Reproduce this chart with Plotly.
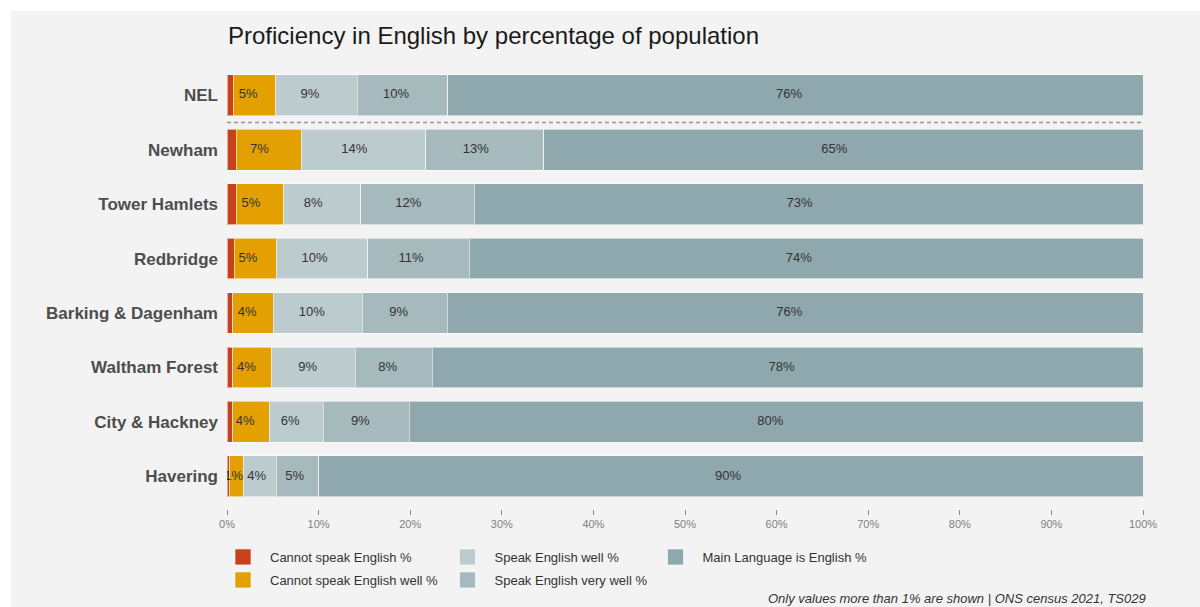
import math
import numpy as np
import plotly.graph_objects as go

areas = ["NEL", "Newham", "Tower Hamlets", "Redbridge", "Barking & Dagenham",
         "Waltham Forest", "City & Hackney", "Havering"]
cannot_speak = [0.7, 1.0, 1.0, 0.8, 0.65, 0.65, 0.65, 0.3]
cannot_speak_well = [4.6, 7.1, 5.2, 4.55, 4.4, 4.25, 3.95, 1.45]
speak_well = [8.9, 13.6, 8.4, 10.0, 9.7, 9.1, 5.9, 3.6]
speak_very_well = [9.9, 12.9, 12.4, 11.1, 9.3, 8.4, 9.4, 4.65]
main_language = [75.9, 65.4, 73.0, 73.55, 75.95, 77.6, 80.1, 90.0]

series_names = ["Cannot speak English %", "Cannot speak English well %",
                "Speak English well %", "Speak English very well %",
                "Main Language is English %"]
series_values = [cannot_speak, cannot_speak_well, speak_well, speak_very_well, main_language]
series_colors = ["#c9411b", "#e3a000", "#bccbce", "#a6b9bc", "#8fa8ad"]

x_ticks = list(range(0, 101, 10))
x_tick_labels = [f"{t}%" for t in x_ticks]
title_text = "Proficiency in English by percentage of population"
caption_text = "Only values more than 1% are shown | ONS census 2021, TS029"

FONT = "Liberation Sans, Arial, sans-serif"

# plot-area geometry (px)
W, H = 1200, 607
L, R, T, B = 227, 57, 68, 98
PW, PH = W - L - R, H - T - B


def px_x(p):
    return (p - L) / PW


def px_y(p):
    return (H - B - p) / PH


fig = go.Figure()

for name, vals, col in zip(series_names, series_values, series_colors):
    fig.add_trace(go.Bar(
        y=areas, x=vals, orientation="h", name=name,
        marker=dict(color=col, line=dict(color="rgba(255,255,255,0.55)", width=1)),
        showlegend=False, hoverinfo="y+x+name",
    ))

# labels (positions from data: stacked excluding the first series)
arr = np.array(series_values[1:])
starts = np.vstack([np.zeros(len(areas)), np.cumsum(arr, axis=0)[:-1]])
lx, ly, lt = [], [], []
for i in range(arr.shape[0]):
    for j in range(arr.shape[1]):
        v = arr[i, j]
        if v > 1:
            lx.append(starts[i, j] + v / 2)
            ly.append(areas[j])
            lt.append(f"{math.floor(v + 0.5)}%")
fig.add_trace(go.Scatter(
    x=lx, y=ly, text=lt, mode="text",
    textfont=dict(family=FONT, size=13, color="#333333"),
    showlegend=False, hoverinfo="skip",
))

# legend entries, column-major in 3 columns
legend_slots = [(216, 557), (216, 580), (440.5, 557), (440.5, 580), (648.5, 557)]
legend_keys = ["legend", "legend2", "legend3", "legend4", "legend5"]
for name, col, key in zip(series_names, series_colors, legend_keys):
    fig.add_trace(go.Scatter(
        x=[None], y=[None], mode="markers", name=name, legend=key,
        marker=dict(symbol="square", size=16, color=col,
                    line=dict(color="rgba(255,255,255,0.6)", width=1)),
        showlegend=True, hoverinfo="skip",
    ))

legend_layout = {}
for key, (lxp, lyp) in zip(legend_keys, legend_slots):
    legend_layout[key] = dict(
        x=px_x(lxp), y=px_y(lyp), xanchor="left", yanchor="middle",
        xref="paper", yref="paper",
        bgcolor="rgba(0,0,0,0)", borderwidth=0, itemwidth=44,
        font=dict(family=FONT, size=13, color="#333333"),
        itemclick=False, itemdoubleclick=False,
    )

fig.update_layout(
    width=W, height=H,
    margin=dict(l=L, r=R, t=T, b=B, autoexpand=False),
    barmode="stack", bargap=0.25,
    paper_bgcolor="white", plot_bgcolor="#f3f3f3",
    title=dict(text=title_text, x=px_x(228), xref="paper", xanchor="left",
               y=1 - 36 / H, yref="container", yanchor="middle",
               font=dict(family=FONT, size=24, color="#1a1a1a")),
    xaxis=dict(range=[0, 100], tickmode="array", tickvals=x_ticks, ticktext=x_tick_labels,
               showgrid=False, zeroline=False, showline=False,
               ticks="outside", ticklen=5, tickwidth=1, tickcolor="#8a8a8a",
               tickfont=dict(family=FONT, size=11, color="#7f7f7f"),
               fixedrange=True),
    yaxis=dict(categoryorder="array", categoryarray=areas,
               range=[7.6, -0.5], showgrid=False, zeroline=False, showline=False,
               ticks="", ticklabelstandoff=8,
               tickfont=dict(family=FONT, size=17, color="#4d4d4d", weight="bold"),
               fixedrange=True),
    shapes=[
        dict(type="rect", xref="paper", yref="paper",
             x0=px_x(11), x1=px_x(W + 5), y0=px_y(H + 5), y1=px_y(11),
             fillcolor="#f3f3f3", line=dict(width=0), layer="below"),
        dict(type="line", xref="x", yref="y", x0=0, x1=100, y0=0.5, y1=0.5,
             line=dict(color="#959595", width=1.5, dash="4px,3px")),
    ],
    annotations=[
        dict(text=caption_text, xref="paper", yref="paper",
             x=px_x(1148), y=px_y(598), xanchor="right", yanchor="middle",
             showarrow=False,
             font=dict(family=FONT, size=13, color="#333333", style="italic")),
    ],
    **legend_layout,
)

fig.write_html("out.html", config={"displayModeBar": False},
               post_script="document.body.style.margin='0';document.body.style.padding='0';")
